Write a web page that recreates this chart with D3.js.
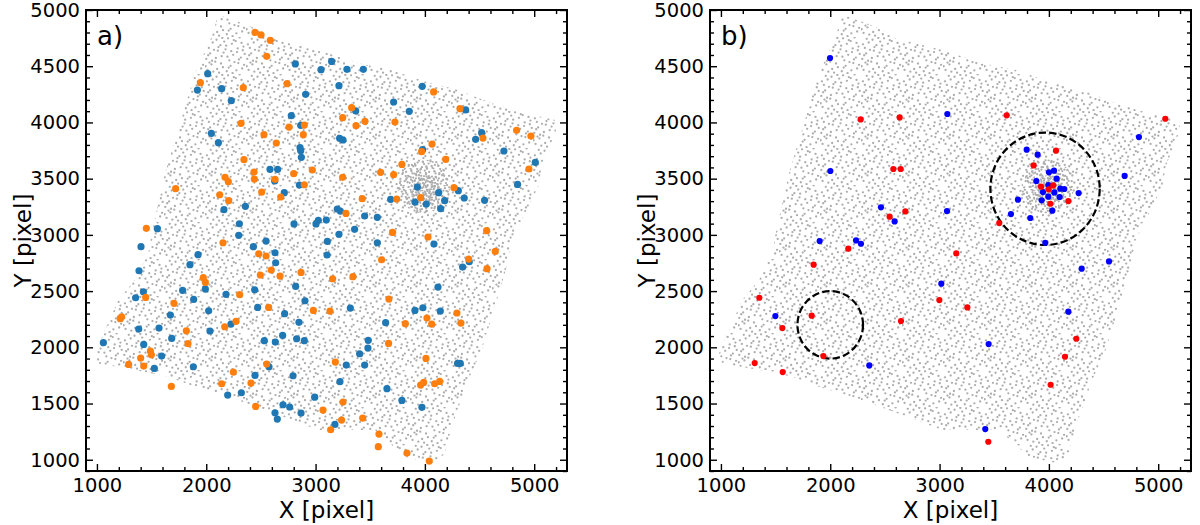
<!DOCTYPE html>
<html>
<head>
<meta charset="utf-8">
<script src="https://cdn.jsdelivr.net/npm/d3@7"></script>
<style>
  body { margin: 0; background: #fff; }
  svg text { font-family: "DejaVu Sans", sans-serif; fill: #000; }
</style>
</head>
<body>
<div id="chart"></div>
<script>
// ---- data ----
const xTicks = [1000, 2000, 3000, 4000, 5000];
const yTicks = [1000, 1500, 2000, 2500, 3000, 3500, 4000, 4500, 5000];

// outline of the detector field (grey background sources)
const footprint = [[2110,4960],[2416,4852],[2598,4748],[3025,4644],[3391,4526],[3696,4466],[4000,4363],[4306,4288],
  [4611,4170],[4915,4081],[5190,4022],[5200,3930],[5068,3607],[5037,3429],[4793,2954],[4748,2717],[4641,2361],
  [4519,1976],[4397,1709],[4245,1294],[4184,1057],[4092,968],[4001,982],[3818,1027],[3543,1264],[3025,1264],
  [2781,1353],[2537,1442],[2202,1560],[1897,1649],[1653,1738],[1348,1798],[1013,1857],[982,1946],[1074,2153],
  [1196,2420],[1348,2598],[1470,2835],[1501,3014],[1623,3547],[1714,3844],[1806,4140],[1897,4437],[2050,4763]];
// denser core of the grey field: [x, y, radius]
const cores = [[3990, 3430, 240], [3995, 3400, 130]];

const blueA = [[2815,4520],[3050,4469],[2013,4434],[1919,4288],[2141,4300],[2229,4194],[2909,4250],[2778,4060],
  [2864,3974],[2047,3903],[2111,3820],[2858,3776],[2864,3749],[2870,3690],[2583,3583],[2653,3583],[2626,3479],
  [2852,3443],[2714,3375],[2358,3254],[2162,3224],[2303,3099],[2803,3097],[3004,3097],[3025,3129],[3098,3132],
  [1553,3055],[2297,2996],[2547,2945],[3108,2942],
  [3147,4543],[3287,4472],[3437,4472],[3214,4327],[3976,4321],[3714,4182],[3857,4099],[3367,4102],[4373,4111],
  [4519,3909],[4464,3850],[4723,3746],[3220,3859],[3251,3844],[3979,3758],[5010,3645],[4848,3449],[3931,3426],
  [4126,3375],[4306,3393],[4360,3328],[3687,3316],[3909,3292],[4013,3274],[4181,3304],[4144,3233],[4546,3307],
  [3199,3230],[3226,3212],[3449,3168],[3565,3156],[3357,3049],[3214,3005],
  [1403,2895],[2431,2895],[1925,2824],[2629,2841],[3105,2821],[1851,2735],[2635,2752],[1385,2681],[1425,2494],
  [1354,2441],[1784,2506],[1992,2518],[2443,2512],[2818,2542],[2181,2471],[1885,2426],[2903,2414],[1672,2287],
  [2022,2325],[2470,2355],[2717,2299],[2848,2222],[2226,2207],[1382,2162],[1568,2171],[2034,2145],[1059,2041],
  [1428,2026],[1684,2079],[2699,2106],[2531,2059],[2632,2047],[2827,2076],[2897,2059],[1592,1922],[1525,1812],
  [1882,1827],[2574,1827],[2446,1750],[2794,1747],[2196,1575],[2321,1596],[2702,1489],[2763,1469],[2629,1418],
  [2650,1362],[2867,1415],[2992,1557],
  [3565,2930],[4083,2918],[4345,2714],[4406,2761],[4120,2536],[3318,2349],[3909,2328],[3982,2352],[4141,2322],
  [3641,2219],[3482,2062],[3479,1993],[3403,1943],[3281,1842],[3449,1842],[4299,1857],[4324,1857],[3223,1694],
  [3653,1632],[3790,1528],[3973,1466],[3177,1314]];

const orangeA = [[2446,4801],[2501,4778],[2586,4730],[2553,4588],[1946,4354],[2739,4345],[2339,4309],[2318,3992],
  [2757,3959],[2897,3977],[2888,3891],[2528,3891],[2641,3817],[2345,3669],[2437,3559],[2440,3497],[2629,3494],
  [2172,3512],[2202,3473],[2970,3577],[2800,3544],[2897,3446],[2507,3381],[2123,3357],[2205,3304],[2681,3337],
  [1720,3411],[1452,3058],[2153,2930],
  [4080,4271],[3330,4131],[4321,4122],[3248,4042],[3370,3971],[3452,4010],[3726,4004],[4839,3930],[4970,3879],
  [4531,3861],[4065,3808],[3970,3740],[4190,3672],[3790,3627],[3595,3556],[3714,3535],[3248,3512],[4952,3586],
  [4266,3420],[3427,3322],[3742,3319],[3961,3331],[3278,3191],[3705,3022],[4028,2981],[4565,3037],
  [2480,2832],[2547,2812],[2495,2643],[2595,2687],[2675,2634],[2867,2666],[1973,2619],[1992,2577],[1446,2444],
  [1705,2391],[2306,2468],[2571,2355],[2980,2328],[1214,2254],[1226,2272],[2272,2231],[2169,2183],[1818,2147],
  [1833,2032],[1489,1967],[1498,1934],[1400,1904],[1290,1848],[1428,1833],[2553,1851],[2248,1780],[2141,1676],
  [2409,1682],[1681,1652],[2452,1474],[3068,1442],
  [4644,2853],[4400,2785],[4568,2699],[3604,2779],[3156,2610],[3342,2628],[3132,2322],[3671,2429],[3821,2210],
  [4019,2260],[4062,2207],[4293,2305],[4330,2216],[3668,2035],[4010,1901],[3181,1869],[3961,1664],[3989,1688],
  [4089,1676],[4135,1697],[3251,1513],[3238,1353],[3431,1371],[3138,1267],[3580,1228],[3574,1116],[3836,1059],
  [4040,988]];

const blueB = [[1998,4573],[2001,3568],[2464,3245],[2589,3120],[3071,4075],[4824,3870],[3797,3758],[3897,3713],
  [4693,3524],[4001,3556],[4047,3571],[4071,3500],[3885,3479],[3995,3443],[3946,3381],[4050,3378],[4104,3411],
  [4141,3408],[3995,3340],[4098,3337],[3934,3307],[4272,3372],[3717,3313],[4031,3215],[3653,3185],[3830,3150],
  [3068,3212],[1903,2945],[2236,2951],[2281,2921],[1498,2278],[2357,1839],[3967,2930],[4550,2764],[4300,2699],
  [3016,2566],[4178,2317],[3449,2029],[3418,1273]];

const redB = [[2278,4027],[2635,4045],[2577,3586],[2644,3586],[2687,3209],[2543,3162],[3614,4063],[5065,4033],
  [4065,3749],[3860,3618],[3928,3429],[3998,3405],[4040,3440],[4013,3277],[4178,3301],[3546,3105],[2165,2877],
  [1848,2735],[1351,2441],[1830,2281],[1562,2171],[2647,2234],[1309,1860],[1565,1780],[1937,1922],[3153,2835],
  [2998,2420],[3254,2355],[4251,2076],[4147,1916],[4016,1667],[3446,1160]];

// dashed regions in panel b: [x, y, radius]
const regions = [[3965, 3410, 500], [2000, 2200, 300]];

// ---- layout ----
const W = 1200, H = 525;
const plotTop = 10, plotBottom = 471, panelW = 481;
const grey = "#adadad";

const svg = d3.select("#chart").append("svg")
  .attr("width", W)
  .attr("height", H);
const defs = svg.append("defs");

// grey field texture: tiles speckled with evenly scattered (Halton) dots
function halton(i, b) {
  let f = 1, r = 0;
  while (i > 0) { f /= b; r += f * (i % b); i = Math.floor(i / b); }
  return r;
}
const textures = [
  {id: "field", w: 41, h: 37, n: 56, start: 1},
  {id: "core1", w: 23, h: 21, n: 34, start: 7},
  {id: "core2", w: 17, h: 19, n: 30, start: 13}
];
textures.forEach(t => {
  const p = defs.append("pattern")
    .attr("id", t.id)
    .attr("patternUnits", "userSpaceOnUse")
    .attr("width", t.w)
    .attr("height", t.h);
  p.selectAll("circle")
    .data(d3.range(t.start, t.start + t.n))
    .enter().append("circle")
    .attr("cx", i => halton(i, 2) * t.w)
    .attr("cy", i => halton(i, 3) * t.h)
    .attr("r", 1.15)
    .attr("fill", grey);
});

function drawPanel(left, label, series, rad, dashed) {
  const x = d3.scaleLinear().domain([900, 5300]).range([left, left + panelW]);
  const y = d3.scaleLinear().domain([900, 5000]).range([plotBottom, plotTop]);
  const g = svg.append("g");

  // grey background sources
  const line = d3.line().x(d => x(d[0])).y(d => y(d[1])).curve(d3.curveLinearClosed);
  g.append("path").attr("d", line(footprint)).attr("fill", "url(#field)");
  cores.forEach((c, i) => {
    g.append("ellipse")
      .attr("cx", x(c[0])).attr("cy", y(c[1]))
      .attr("rx", x(c[0] + c[2]) - x(c[0]))
      .attr("ry", y(c[1]) - y(c[1] + c[2]))
      .attr("fill", `url(#core${i + 1})`);
  });

  if (dashed) {
    g.selectAll(".region").data(regions).enter()
      .append("ellipse")
      .attr("cx", d => x(d[0])).attr("cy", d => y(d[1]))
      .attr("rx", d => x(d[0] + d[2]) - x(d[0]))
      .attr("ry", d => y(d[1]) - y(d[1] + d[2]))
      .attr("fill", "none")
      .attr("stroke", "#000")
      .attr("stroke-width", 2.2)
      .attr("stroke-dasharray", "7.4,3.2");
  }

  series.forEach(s => {
    g.append("g").selectAll("circle")
      .data(s.data).enter()
      .append("circle")
      .attr("cx", d => x(d[0]))
      .attr("cy", d => y(d[1]))
      .attr("r", rad)
      .attr("fill", s.color);
  });

  // axes: ticks inward on all four sides
  const minorX = d3.range(1000, 5300, 200).filter(v => v % 1000 !== 0);
  const minorY = d3.range(900, 5001, 100).filter(v => v % 500 !== 0);
  const style = a => a.call(s => s.select(".domain").remove())
    .call(s => s.selectAll("line").attr("stroke-width", 1.4))
    .attr("font-size", 19.5)
    .attr("font-family", "DejaVu Sans");

  g.append("g").attr("transform", `translate(0,${plotBottom})`)
    .call(d3.axisBottom(x).tickValues(xTicks).tickSize(-7).tickPadding(7).tickFormat(d3.format("d"))).call(style);
  g.append("g").attr("transform", `translate(0,${plotBottom})`)
    .call(d3.axisBottom(x).tickValues(minorX).tickSize(-4).tickFormat("")).call(style);
  g.append("g").attr("transform", `translate(0,${plotTop})`)
    .call(d3.axisTop(x).tickValues(xTicks).tickSize(-7).tickFormat("")).call(style);
  g.append("g").attr("transform", `translate(0,${plotTop})`)
    .call(d3.axisTop(x).tickValues(minorX).tickSize(-4).tickFormat("")).call(style);
  g.append("g").attr("transform", `translate(${left},0)`)
    .call(d3.axisLeft(y).tickValues(yTicks).tickSize(-7).tickPadding(6).tickFormat(d3.format("d"))).call(style);
  g.append("g").attr("transform", `translate(${left},0)`)
    .call(d3.axisLeft(y).tickValues(minorY).tickSize(-4).tickFormat("")).call(style);
  g.append("g").attr("transform", `translate(${left + panelW},0)`)
    .call(d3.axisRight(y).tickValues(yTicks).tickSize(-7).tickFormat("")).call(style);
  g.append("g").attr("transform", `translate(${left + panelW},0)`)
    .call(d3.axisRight(y).tickValues(minorY).tickSize(-4).tickFormat("")).call(style);

  g.append("rect")
    .attr("x", left).attr("y", plotTop)
    .attr("width", panelW).attr("height", plotBottom - plotTop)
    .attr("fill", "none").attr("stroke", "#000").attr("stroke-width", 2);

  g.append("text")
    .attr("x", left + 11).attr("y", plotTop + 35)
    .attr("font-size", 26)
    .text(label);

  g.append("text")
    .attr("x", left + panelW / 2).attr("y", 518)
    .attr("text-anchor", "middle")
    .attr("font-size", 23)
    .text("X [pixel]");

  g.append("text")
    .attr("transform", `translate(${left - 55},${(plotTop + plotBottom) / 2}) rotate(-90)`)
    .attr("text-anchor", "middle")
    .attr("font-size", 23)
    .text("Y [pixel]");
}

drawPanel(86, "a)", [{data: blueA, color: "#1f77b4"}, {data: orangeA, color: "#ff7f0e"}], 3.6, false);
drawPanel(710, "b)", [{data: blueB, color: "#0000ff"}, {data: redB, color: "#ff0000"}], 3.1, true);
</script>
</body>
</html>
